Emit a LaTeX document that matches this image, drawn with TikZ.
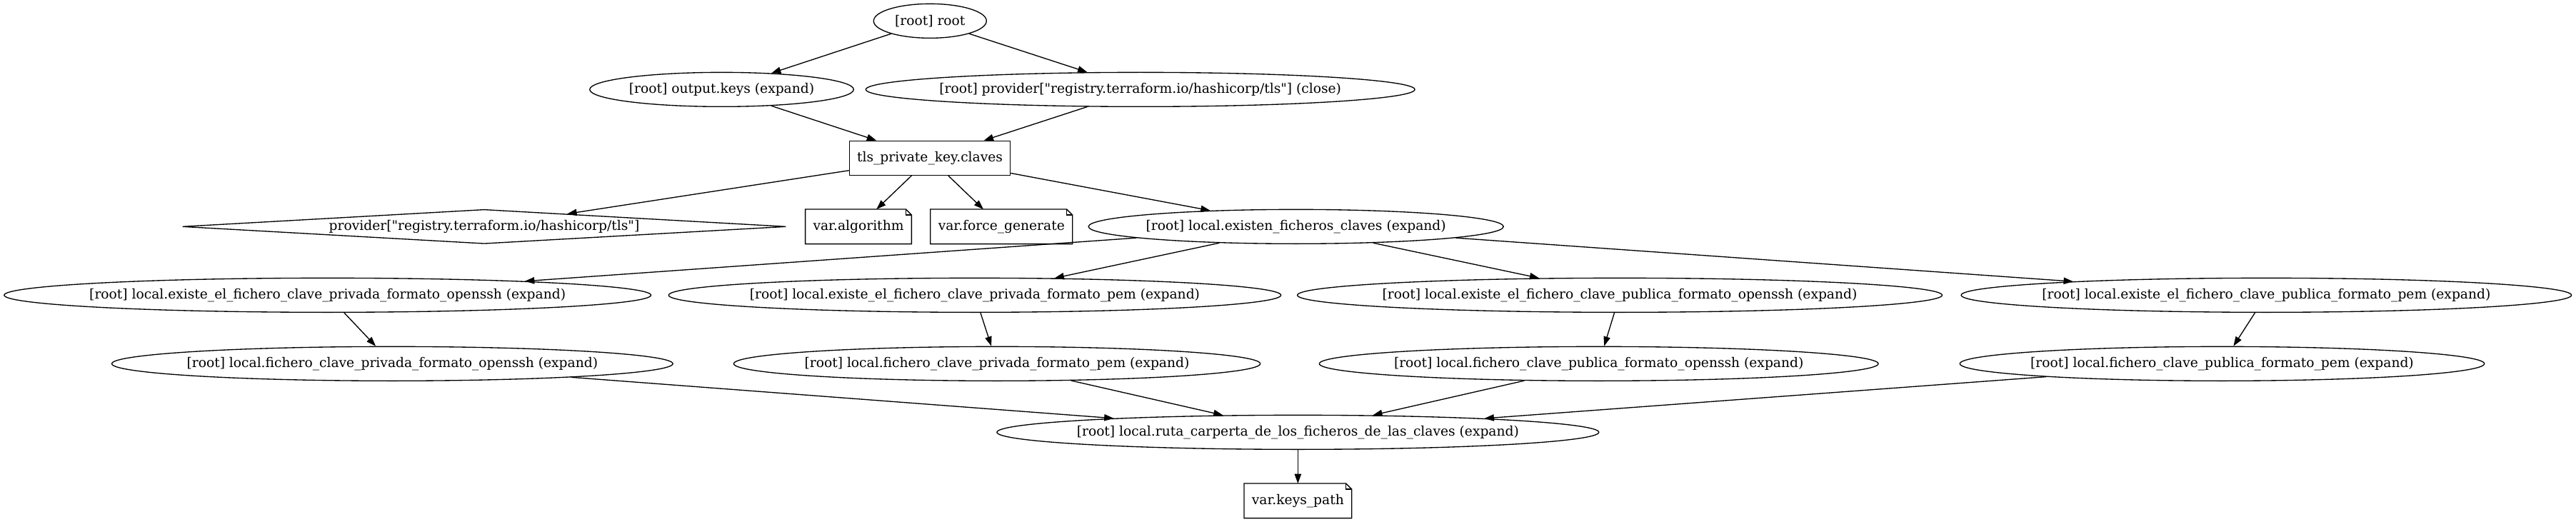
\documentclass[tikz,border=0pt]{standalone}
\usepackage{fontspec}
\setmainfont{DejaVu Serif}[Ligatures=TeXOff]
\usetikzlibrary{shapes.geometric,arrows.meta,calc}
\newcommand\gvfnt{\fontsize{14pt}{17pt}\selectfont}
\newcommand\gvell[3]{\node[gvtextbox] (#1-t) at (#2) {#3};
  \path let \p1=($(#1-t.east)-(#1-t.west)$) in node[gvellipse, minimum width={1.315*\x1}] (#1) at (#2) {};}
\newcommand\gvnote[3]{\node[gvnotebox] (#1) at (#2) {#3};
  \draw[gvline] (#1.north west) -- ([xshift=-6pt]#1.north east) -- ([yshift=-6pt]#1.north east) -- (#1.south east) -- (#1.south west) -- cycle;
  \draw[gvline] ([xshift=-6pt]#1.north east) |- ([yshift=-6pt]#1.north east);}
\begin{document}
\begin{tikzpicture}[
  gvline/.style={line width=1pt},
  gvellipse/.style={ellipse, draw, line width=1pt, minimum height=36pt, inner sep=0pt},
  gvtextbox/.style={rectangle, draw=none, inner xsep=8pt, inner ysep=0pt, font=\gvfnt},
  gvtext/.style={font=\gvfnt, inner sep=0pt},
  gvbox/.style={rectangle, draw, line width=1pt, minimum height=36pt, minimum width=54pt, inner xsep=8pt, inner ysep=0pt, font=\gvfnt},
  gvnotebox/.style={rectangle, draw=none, minimum height=36pt, minimum width=54pt, inner xsep=8pt, inner ysep=0pt, font=\gvfnt},
  gvdiamond/.style={diamond, draw, line width=1pt, minimum width=634pt, minimum height=36pt, inner sep=0pt, aspect=17.6},
  gvedge/.style={line width=1pt, -{Triangle[length=10pt,width=7pt]}},
]
\useasboundingbox (0pt,0pt) rectangle (2705.25pt,-548.25pt);
% rank 1
\gvell{root}{976.7pt,-22pt}{[root] root}
% rank 2
\gvell{outkeys}{757.9pt,-94pt}{[root] output.keys (expand)}
\gvell{provclose}{1197.5pt,-94pt}{[root] provider["registry.terraform.io/hashicorp/tls"] (close)}
% rank 3
\node[gvbox] (tls) at (976.5pt,-166pt) {tls\_private\_key.claves};
% rank 4
\node[gvdiamond, label={[gvtext]center:{provider["registry.terraform.io/hashicorp/tls"]}}] (prov) at (508.5pt,-238pt) {};
\gvnote{varalg}{901.5pt,-238pt}{var.algorithm}
\gvnote{varforce}{1051.7pt,-238pt}{var.force\_generate}
\gvell{existen}{1361pt,-238pt}{[root] local.existen\_ficheros\_claves (expand)}
% rank 5
\gvell{exA}{344pt,-310pt}{[root] local.existe\_el\_fichero\_clave\_privada\_formato\_openssh (expand)}
\gvell{exB}{1023.7pt,-310pt}{[root] local.existe\_el\_fichero\_clave\_privada\_formato\_pem (expand)}
\gvell{exC}{1701pt,-310pt}{[root] local.existe\_el\_fichero\_clave\_publica\_formato\_openssh (expand)}
\gvell{exD}{2380pt,-310pt}{[root] local.existe\_el\_fichero\_clave\_publica\_formato\_pem (expand)}
% rank 6
\gvell{fiE}{412pt,-382pt}{[root] local.fichero\_clave\_privada\_formato\_openssh (expand)}
\gvell{fiF}{1047pt,-382pt}{[root] local.fichero\_clave\_privada\_formato\_pem (expand)}
\gvell{fiG}{1679pt,-382pt}{[root] local.fichero\_clave\_publica\_formato\_openssh (expand)}
\gvell{fiH}{2333.6pt,-382pt}{[root] local.fichero\_clave\_publica\_formato\_pem (expand)}
% rank 7
\gvell{ruta}{1363pt,-454pt}{[root] local.ruta\_carperta\_de\_los\_ficheros\_de\_las\_claves (expand)}
% rank 8
\gvnote{keys}{1363pt,-526pt}{var.keys\_path}
% edges
\draw[gvedge] (root) -- (outkeys);
\draw[gvedge] (root) -- (provclose);
\draw[gvedge] (outkeys) -- (tls);
\draw[gvedge] (provclose) -- (tls);
\draw[gvedge] (tls) -- (prov);
\draw[gvedge] (tls) -- (varalg);
\draw[gvedge] (tls) -- (varforce);
\draw[gvedge] (tls) -- (existen);
\draw[gvedge] (existen) -- (exA);
\draw[gvedge] (existen) -- (exB);
\draw[gvedge] (existen) -- (exC);
\draw[gvedge] (existen) -- (exD);
\draw[gvedge] (exA) -- (fiE);
\draw[gvedge] (exB) -- (fiF);
\draw[gvedge] (exC) -- (fiG);
\draw[gvedge] (exD) -- (fiH);
\draw[gvedge] (fiE) -- (ruta);
\draw[gvedge] (fiF) -- (ruta);
\draw[gvedge] (fiG) -- (ruta);
\draw[gvedge] (fiH) -- (ruta);
\draw[gvedge] (ruta) -- (keys);
\end{tikzpicture}
\end{document}
